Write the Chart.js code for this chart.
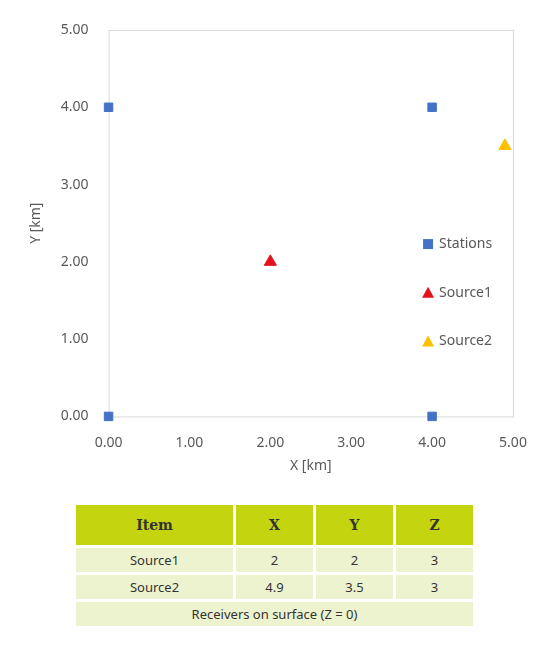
<!DOCTYPE html>
<html>
<head>
<meta charset="utf-8">
<script src="https://cdn.jsdelivr.net/npm/chart.js@4"></script>
<style>
  body { margin: 0; background: #fff; font-family: "Noto Sans", sans-serif; }
  #wrap { position: relative; width: 541px; height: 478px; }
  table { position: absolute; left: 73px; top: 502px; border-spacing: 3px; font-size: 13px; color: #333; }
  th { background: #c4d40f; height: 38px; font-family: "DejaVu Serif", serif; font-weight: bold; font-size: 14px; }
  td { background: #eef3cf; height: 22px; text-align: center; }
</style>
</head>
<body>
<div id="wrap"><canvas id="chart"></canvas></div>
<table>
  <tr><th style="width:155px">Item</th><th style="width:75px">X</th><th style="width:75px">Y</th><th style="width:75px">Z</th></tr>
  <tr><td>Source1</td><td>2</td><td>2</td><td>3</td></tr>
  <tr><td>Source2</td><td>4.9</td><td>3.5</td><td>3</td></tr>
  <tr><td colspan="4">Receivers on surface (Z = 0)</td></tr>
</table>
<script>
const stationsX = [0, 0, 4, 4];
const stationsY = [0, 4, 0, 4];
const source1X = [2];
const source1Y = [2];
const source2X = [4.9];
const source2Y = [3.5];
const seriesNames = ['Stations', 'Source1', 'Source2'];

const pts = (xs, ys) => xs.map((x, i) => ({ x: x, y: ys[i] }));

// legend drawn inside the plot, to the right
const insideLegend = {
  id: 'insideLegend',
  afterDraw(chart) {
    const ctx = chart.ctx;
    const xs = chart.scales.x, ys = chart.scales.y;
    const lx = xs.getPixelForValue(3.95);
    chart.data.datasets.forEach((ds, i) => {
      const y = ys.getPixelForValue(2.23 - i * 0.63);
      ctx.save();
      ctx.fillStyle = ds.backgroundColor;
      ctx.beginPath();
      if (ds.pointStyle === 'rect') {
        ctx.rect(lx - 5, y - 5, 10, 10);
      } else {
        ctx.moveTo(lx, y - 6); ctx.lineTo(lx + 6, y + 5); ctx.lineTo(lx - 6, y + 5); ctx.closePath();
      }
      ctx.fill();
      ctx.fillStyle = '#595959';
      ctx.font = '14px "Noto Sans"';
      ctx.textBaseline = 'middle';
      ctx.fillText(ds.label, lx + 11, y);
      ctx.restore();
    });
  }
};

// plot area box
const frame = {
  id: 'frame',
  beforeDatasetsDraw(chart) {
    const a = chart.chartArea, ctx = chart.ctx;
    ctx.save();
    ctx.strokeStyle = '#d9d9d9';
    ctx.lineWidth = 1;
    ctx.strokeRect(a.left + 0.5, a.top + 0.5, a.right - a.left, a.bottom - a.top);
    ctx.restore();
  }
};

new Chart(document.getElementById('chart'), {
  type: 'scatter',
  data: {
    datasets: [
      { label: seriesNames[0], data: pts(stationsX, stationsY), pointStyle: 'rect', backgroundColor: '#4472c4', borderColor: '#4472c4', pointRadius: 6, clip: false },
      { label: seriesNames[1], data: pts(source1X, source1Y), pointStyle: 'triangle', backgroundColor: '#e3121b', borderColor: '#e3121b', pointRadius: 7, clip: false },
      { label: seriesNames[2], data: pts(source2X, source2Y), pointStyle: 'triangle', backgroundColor: '#ffc000', borderColor: '#ffc000', pointRadius: 7, clip: false }
    ]
  },
  options: {
    responsive: true,
    maintainAspectRatio: false,
    animation: false,
    layout: { padding: { top: 30, right: 28, left: 24, bottom: 0 } },
    plugins: { legend: { display: false }, tooltip: { enabled: false } },
    scales: {
      x: {
        min: 0, max: 5,
        ticks: { stepSize: 1, color: '#595959', font: { size: 14, family: 'Noto Sans' }, padding: 10, callback: v => v.toFixed(2) },
        grid: { display: false },
        border: { display: false },
        title: { display: true, text: 'X [km]', color: '#595959', font: { size: 14, family: 'Noto Sans' }, padding: { top: -4 } }
      },
      y: {
        min: 0, max: 5,
        ticks: { stepSize: 1, color: '#595959', font: { size: 14, family: 'Noto Sans' }, padding: 12, callback: v => v.toFixed(2) },
        grid: { display: false },
        border: { display: false },
        title: { display: true, text: 'Y [km]', color: '#595959', font: { size: 14, family: 'Noto Sans' } }
      }
    }
  },
  plugins: [frame, insideLegend]
});
</script>
</body>
</html>
